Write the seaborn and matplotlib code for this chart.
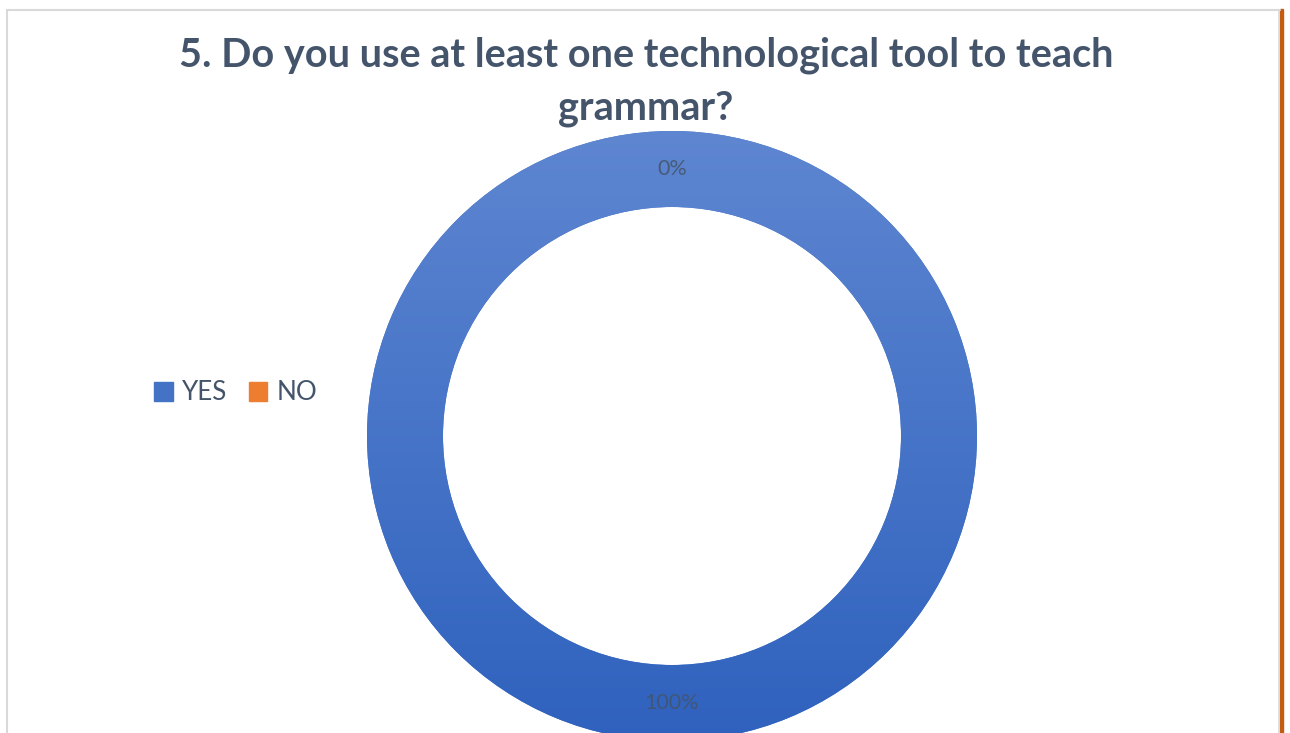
import numpy as np
import matplotlib
matplotlib.use("Agg")
import matplotlib.pyplot as plt
from matplotlib.colors import LinearSegmentedColormap
from matplotlib.patches import Rectangle
from matplotlib.lines import Line2D
import seaborn as sns

categories = ["YES", "NO"]
values = [100, 0]
title = "5. Do you use at least one technological tool to teach\ngrammar?"

sns.set_theme(style="white")
plt.rcParams['font.family'] = ['Lato', 'DejaVu Sans']

colors = ["#4472C4", "#ED7D31"]
text_col = "#44546A"

W, H = 1290, 733
fig = plt.figure(figsize=(W / 100, H / 100), dpi=100)

# chart frame
fig.add_artist(Line2D([6.5 / W, 1280 / W], [1 - 9.5 / H, 1 - 9.5 / H], color="#D9D9D9", lw=1.5, transform=fig.transFigure))
fig.add_artist(Line2D([6.5 / W, 6.5 / W], [0, 1 - 9.5 / H], color="#D9D9D9", lw=1.5, transform=fig.transFigure))
fig.add_artist(Line2D([1278.5 / W, 1278.5 / W], [0, 1 - 9.5 / H], color="#D9D9D9", lw=1.2, transform=fig.transFigure))
fig.add_artist(Rectangle((1280 / W, 0), 3 / W, 1 - 9 / H, color="#C55A11", transform=fig.transFigure))

cx, cy, R, r_in = 672, 436, 305, 229
ax = fig.add_axes([(cx - R) / W, (H - cy - R) / H, 2 * R / W, 2 * R / H])
wedges, texts, autotexts = ax.pie(
    values, colors=colors, startangle=90, counterclock=False,
    radius=1, autopct='%1.0f%%', pctdistance=(R + r_in) / 2 / R,
    wedgeprops=dict(width=(R - r_in) / R, edgecolor="none"),
    textprops=dict(color=text_col, fontsize=15.5, alpha=0.85),
)
ax.set_xlim(-1, 1)
ax.set_ylim(-1, 1)
ax.set_aspect("equal")
ax.axis("off")

grad = LinearSegmentedColormap.from_list("g", ["#2F62BE", "#5E86D1"])
img = ax.imshow(np.linspace(0, 1, 256).reshape(-1, 1), cmap=grad, origin="lower",
                extent=[-1, 1, -1, 1], aspect="auto", zorder=wedges[0].get_zorder() + 0.1)
img.set_clip_path(wedges[0])
for t in autotexts:
    t.set_zorder(5)
for w in wedges:
    w.set_clip_on(False)
ax.set_clip_on(False)

fig.text(646 / W, 1 - 82 / H, title, ha="center", va="center", fontsize=28.5,
         fontweight="bold", color=text_col, linespacing=1.5)

# legend
handles = [Rectangle((0, 0), 1, 1, color=c) for c in colors]
fig.legend(handles, categories, loc="center left", bbox_to_anchor=(131 / W, 1 - 393 / H),
           ncol=2, frameon=False, fontsize=18.7, labelcolor=text_col, handlelength=0.7,
           handleheight=0.7, handletextpad=0.35, columnspacing=0.85)

fig.savefig("out.png", dpi=100, facecolor="white")
